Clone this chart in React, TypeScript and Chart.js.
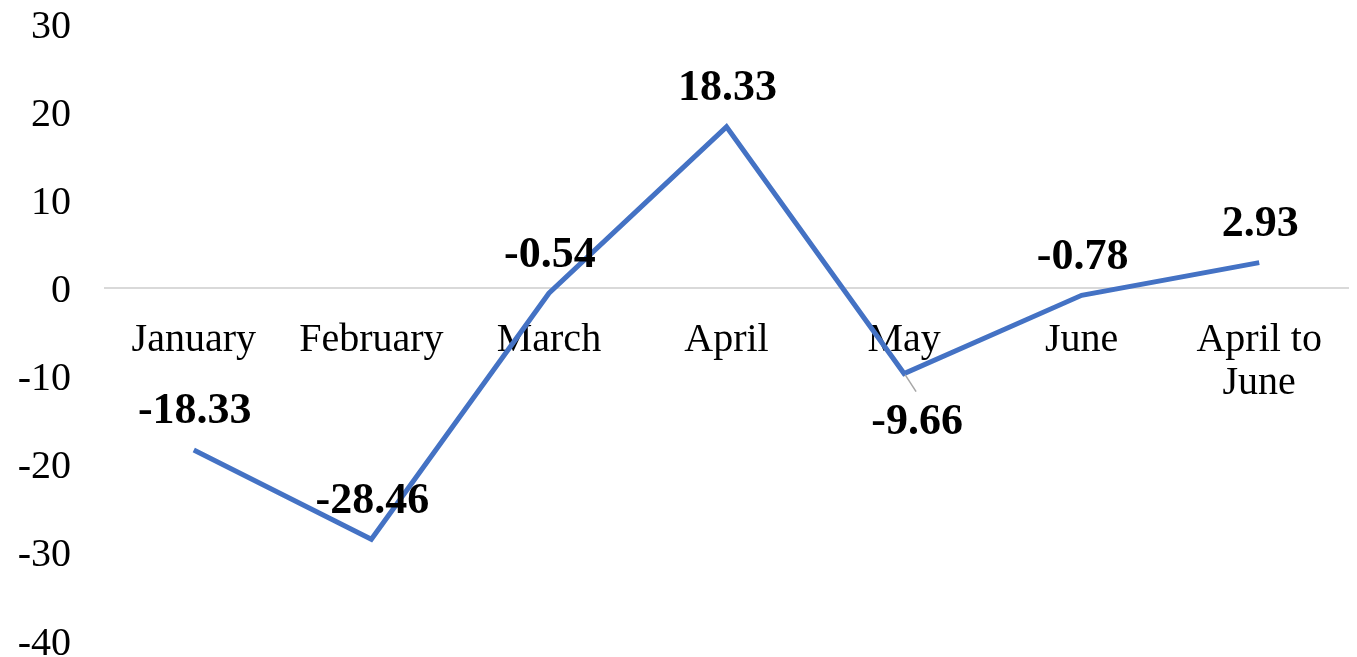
import React, { useEffect, useRef } from "react";
import { Chart, registerables } from "chart.js";

Chart.register(...registerables);

const categories: (string | string[])[] = [
  "January",
  "February",
  "March",
  "April",
  "May",
  "June",
  ["April to", "June"],
];
const values = [-18.33, -28.46, -0.54, 18.33, -9.66, -0.78, 2.93];
const yMin = -40;
const yMax = 30;
const yStep = 10;
const labelBelow = [false, false, false, false, true, false, false];

const FONT = '"Liberation Serif", Cambria, serif';

export default function App() {
  const ref = useRef<HTMLCanvasElement>(null);

  useEffect(() => {
    const dataLabels = {
      id: "dataLabels",
      afterDatasetsDraw(chart: any) {
        const ctx = chart.ctx;
        const meta = chart.getDatasetMeta(0);
        ctx.save();
        ctx.font = `bold 44px ${FONT}`;
        ctx.fillStyle = "#000";
        ctx.textAlign = "center";
        ctx.textBaseline = "middle";
        meta.data.forEach((pt: any, i: number) => {
          const v = values[i];
          const txt = v.toFixed(2);
          if (labelBelow[i]) {
            ctx.strokeStyle = "#a6a6a6";
            ctx.lineWidth = 1.5;
            ctx.beginPath();
            ctx.moveTo(pt.x + 1, pt.y + 1);
            ctx.lineTo(pt.x + 12, pt.y + 18);
            ctx.stroke();
            ctx.fillText(txt, pt.x + 13, pt.y + 49);
          } else {
            ctx.fillText(txt, pt.x + 1, pt.y - 38);
          }
        });
        ctx.restore();
      },
    };

    const chart = new Chart(ref.current!, {
      type: "line",
      data: {
        labels: categories as any,
        datasets: [
          {
            data: values,
            borderColor: "#4472C4",
            borderWidth: 5,
            pointRadius: 0,
            tension: 0,
            fill: false,
          },
        ],
      },
      options: {
        animation: false,
        responsive: false,
        maintainAspectRatio: false,
        layout: { padding: { top: 24, bottom: 16, left: 0, right: 9 } },
        plugins: {
          legend: { display: false },
          tooltip: { enabled: false },
        },
        scales: {
          x: {
            type: "category",
            position: { y: 0 } as any,
            offset: true,
            grid: { display: false, drawTicks: false },
            border: { display: true, color: "#d9d9d9", width: 2 },
            ticks: {
              color: "#000",
              font: { family: FONT, size: 40, lineHeight: 1.08 },
              padding: 30,
              maxRotation: 0,
              autoSkip: false,
            },
          },
          y: {
            min: yMin,
            max: yMax,
            ticks: {
              stepSize: yStep,
              color: "#000",
              font: { family: FONT, size: 40 },
              padding: 34,
              labelOffset: 3,
            },
            grid: { display: false, drawTicks: false },
            border: { display: false },
            afterFit(s: any) {
              s.paddingTop = 0;
              s.paddingBottom = 0;
              s.width = 105;
            },
          },
        },
      },
      plugins: [dataLabels],
    });
    return () => chart.destroy();
  }, []);

  return (
    <div style={{ position: "fixed", left: 0, top: 0, width: 1357, height: 657 }}>
      <canvas ref={ref} width={1357} height={657} style={{ display: "block" }} />
    </div>
  );
}
